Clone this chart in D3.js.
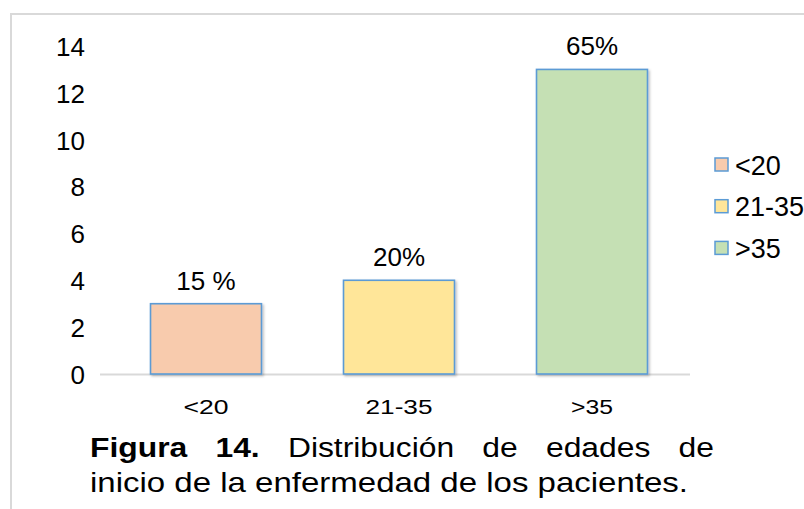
<!DOCTYPE html>
<html><head><meta charset="utf-8">
<script src="https://cdn.jsdelivr.net/npm/d3@7"></script>
<style>body{margin:0;background:#fff}svg{display:block}text{font-family:"Liberation Sans",Arial,sans-serif}</style>
</head><body>
<svg id="c" width="804" height="509"></svg>
<script>
const categories = ["<20", "21-35", ">35"];
const values = [3, 4, 13];
const percentLabels = ["15 %", "20%", "65%"];
const colors = ["#F8CBAD", "#FFE699", "#C5E0B4"];
const yTicks = [0, 2, 4, 6, 8, 10, 12, 14];
const captionLine1 = [["Figura", true], ["14.", true], ["Distribución", false], ["de", false], ["edades", false], ["de", false]];
const captionLine2 = "inicio de la enfermedad de los pacientes.";

const svg = d3.select("#c");
const defs = svg.append("defs");
const f = defs.append("filter").attr("id","sh").attr("x","-10%").attr("y","-10%").attr("width","130%").attr("height","130%");
f.append("feDropShadow").attr("dx",1.5).attr("dy",1.5).attr("stdDeviation",1.2).attr("flood-color","#000").attr("flood-opacity",0.25);

// frame
svg.append("path").attr("d","M11,509 V14 H804").attr("fill","none").attr("stroke","#d9d9d9").attr("stroke-width",2);

const x = d3.scaleBand().domain(categories).range([109.5, 688.5]).paddingInner(0.425).paddingOuter(0.2125);
const y = d3.scaleLinear().domain([0, 14]).range([374, 46]);

// y axis labels
const yAxis = d3.axisLeft(y).tickValues(yTicks).tickSize(0).tickPadding(0);
const gy = svg.append("g").attr("transform","translate(85,0)").call(yAxis);
gy.select(".domain").remove();
gy.attr("font-size",null).attr("font-family",null);
gy.selectAll("text").attr("font-size",26).attr("fill","#000").attr("dy","0.36em");

// baseline + category labels
const xAxis = d3.axisBottom(x).tickSize(0).tickPadding(0);
const gx = svg.append("g").attr("transform",`translate(0,${y(0)})`).call(xAxis);
gx.attr("font-size",null).attr("font-family",null);
gx.select(".domain").attr("d",`M100,0.5H690`).attr("stroke","#d9d9d9").attr("stroke-width",2);
const xLabelWidths = {"<20":45, "21-35":67, ">35":42};
gx.selectAll("text").attr("font-size",20).attr("fill","#000").attr("y",40).attr("dy","0")
  .attr("textLength",d=>xLabelWidths[d]).attr("lengthAdjust","spacingAndGlyphs");

// bars
svg.selectAll("rect.bar").data(values).join("rect").attr("class","bar")
  .attr("x",(d,i)=>x(categories[i])).attr("width",x.bandwidth())
  .attr("y",d=>y(d)).attr("height",d=>y(0)-y(d))
  .attr("fill",(d,i)=>colors[i]).attr("stroke","#5B9BD5").attr("stroke-width",1.6)
  .attr("filter","url(#sh)");

// value labels
svg.selectAll("text.lbl").data(values).join("text").attr("class","lbl")
  .attr("x",(d,i)=>x(categories[i])+x.bandwidth()/2).attr("y",d=>y(d)-14)
  .attr("text-anchor","middle").attr("font-size",26).attr("fill","#000")
  .text((d,i)=>percentLabels[i]);

// legend
const lg = svg.append("g");
categories.forEach((c,i)=>{
  const yy = 165 + i*41.7;
  lg.append("rect").attr("x",715).attr("y",yy-7).attr("width",13).attr("height",13)
    .attr("fill",colors[i]).attr("stroke","#5B9BD5").attr("stroke-width",1.5);
  lg.append("text").attr("x",735).attr("y",yy).attr("dy","0.36em").attr("font-size",27).attr("fill","#000").text(c);
});

// caption
const capLeft = 90, capRight1 = 714, capRight2 = 688;
const cap = svg.append("g");
const l2 = cap.append("text").attr("x",capLeft).attr("y",492).attr("font-size",28).attr("fill","#000").text(captionLine2);
const nat2 = l2.node().getComputedTextLength();
const stretch = (capRight2 - capLeft) / nat2;
l2.attr("textLength",capRight2 - capLeft).attr("lengthAdjust","spacingAndGlyphs");
const tmp = captionLine1.map(([t,b])=>cap.append("text").attr("font-size",27).attr("font-weight",b?"bold":"normal").attr("fill","#000").attr("y",457).text(t));
const widths = tmp.map(t=>t.node().getComputedTextLength()*stretch);
const gap = (capRight1-capLeft-d3.sum(widths))/(captionLine1.length-1);
let cx = capLeft;
tmp.forEach((t,i)=>{ t.attr("x",cx).attr("textLength",widths[i]).attr("lengthAdjust","spacingAndGlyphs"); cx += widths[i]+gap; });
</script>
</body></html>
